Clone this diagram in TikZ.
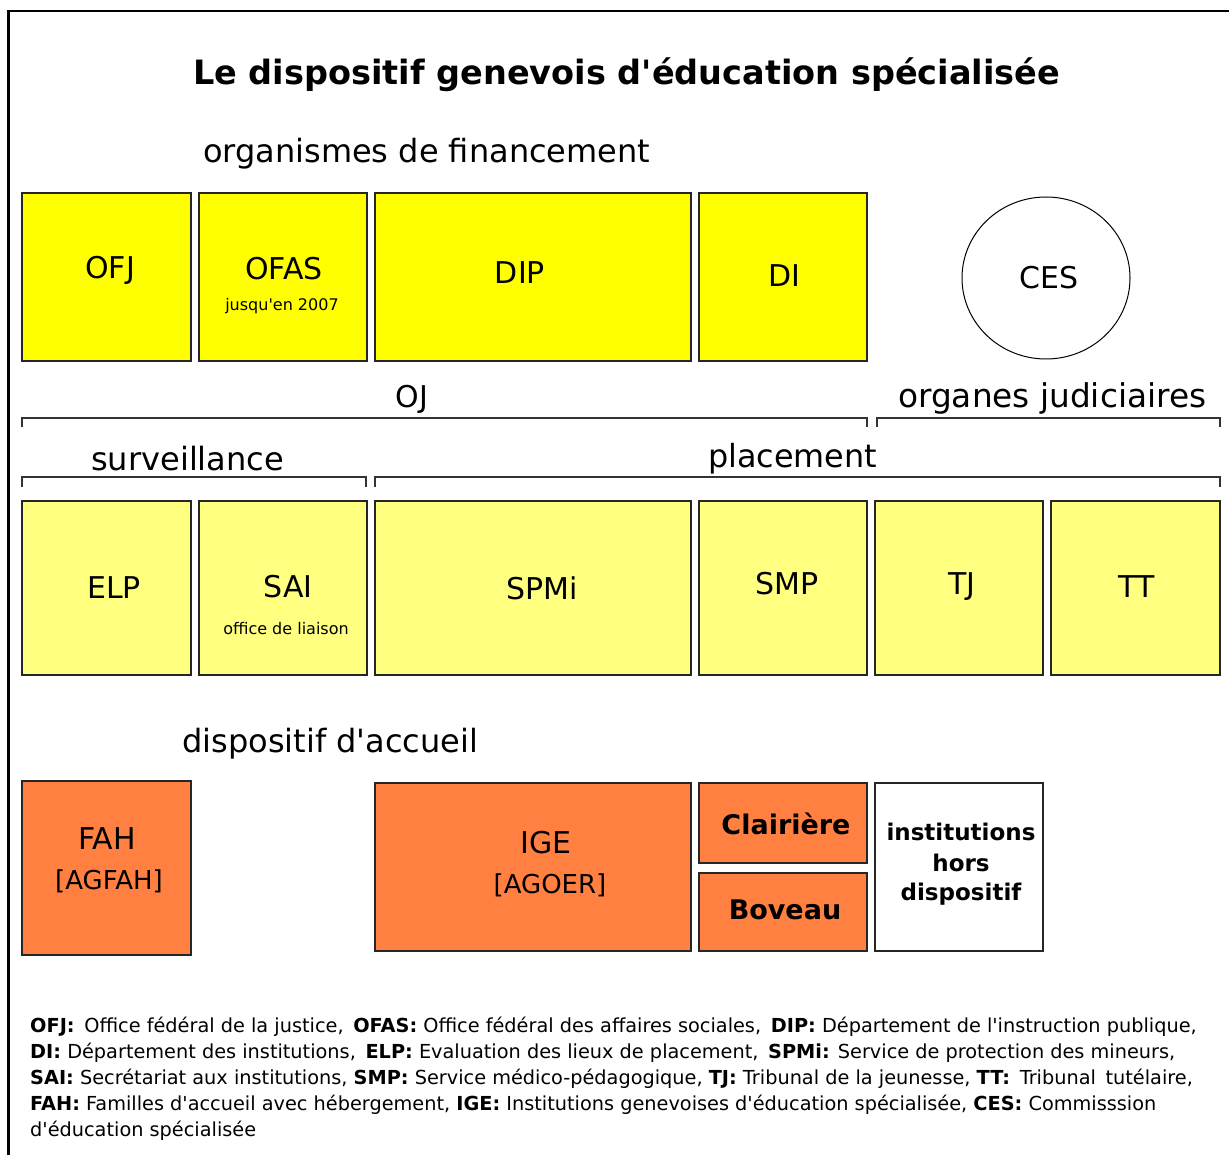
\documentclass[tikz,border=0pt]{standalone}
\usepackage{fontspec}
\setmainfont{DejaVu Sans}[Ligatures=TeXOff]
\usetikzlibrary{shapes.geometric}
\definecolor{yel}{HTML}{FFFF00}
\definecolor{lyel}{HTML}{FFFF80}
\definecolor{ora}{HTML}{FF8040}
\newcommand\fitto[2]{\resizebox{#1pt}{!}{#2}}
\begin{document}
\begin{tikzpicture}[x=1pt,y=-1pt,
  box/.style={draw=black!85, line width=1.6pt, inner sep=0pt, outer sep=0pt},
  lab/.style={anchor=base, inner sep=0pt, font=\fontsize{30}{32}\selectfont},
  small/.style={anchor=base, inner sep=0pt, font=\fontsize{16}{18}\selectfont},
  blab/.style={anchor=base, inner sep=0pt, font=\fontsize{27}{29}\selectfont\bfseries},
  ilab/.style={anchor=base, inner sep=0pt, font=\fontsize{23}{25}\selectfont\bfseries},
  sect/.style={anchor=base west, inner sep=0pt, font=\fontsize{32}{34}\selectfont},
  brk/.style={draw=black!80, line width=1.3pt},
  leg/.style={anchor=base west, inner sep=0pt, font=\fontsize{19.3}{21}\selectfont}]
\useasboundingbox (0,0) rectangle (1229,1155);
\fill[white] (0,0) rectangle (1229,1155);
% frame
\draw[line width=2.5pt] (8.25,1155) -- (8.25,11) -- (1229,11);
% title
\node[anchor=base west, inner sep=0pt] (title) at (193,85)
  {\fitto{867}{\fontsize{31}{34}\selectfont\bfseries Le dispositif genevois d'éducation spécialisée}};
\node[sect] (torg) at (203,163) {\fitto{447}{organismes de financement}};
% row 1
\node[box, fill=yel, minimum width=169pt, minimum height=168pt] (ofj) at (106.5,277) {};
\node[box, fill=yel, minimum width=168pt, minimum height=168pt] (ofas) at (283,277) {};
\node[box, fill=yel, minimum width=316pt, minimum height=168pt] (dip) at (533,277) {};
\node[box, fill=yel, minimum width=168pt, minimum height=168pt] (di) at (783,277) {};
\node[draw=black, line width=1pt, ellipse, inner sep=0pt, minimum width=168pt, minimum height=162pt] (ces) at (1046,278) {};
\node[lab] (lofj) at (110,279) {OFJ};
\node[lab] (lofas) at (284,280) {OFAS};
\node[small] (lofas2) at (282,311) {jusqu'en 2007};
\node[lab] (ldip) at (520,284) {DIP};
\node[lab] (ldi) at (784,287) {DI};
\node[lab] (lces) at (1049,289) {CES};
% brackets
\node[anchor=base, inner sep=0pt, font=\fontsize{30}{32}\selectfont] (toj) at (412,407) {OJ};
\node[sect] (torgj) at (898,407) {\fitto{308}{organes judiciaires}};
\draw[brk] (22,427) -- (22,418) -- (867,418) -- (867,427);
\draw[brk] (877,427) -- (877,418) -- (1220,418) -- (1220,427);
\node[sect] (tsurv) at (91,470) {\fitto{193}{surveillance}};
\node[sect] (tplac) at (708,467) {\fitto{169}{placement}};
\draw[brk] (22,487) -- (22,477) -- (366,477) -- (366,487);
\draw[brk] (375,487) -- (375,477) -- (1220,477) -- (1220,487);
% row 2
\node[box, fill=lyel, minimum width=169pt, minimum height=174pt] (elp) at (106.5,588) {};
\node[box, fill=lyel, minimum width=168pt, minimum height=174pt] (sai) at (283,588) {};
\node[box, fill=lyel, minimum width=316pt, minimum height=174pt] (spmi) at (533,588) {};
\node[box, fill=lyel, minimum width=168pt, minimum height=174pt] (smp) at (783,588) {};
\node[box, fill=lyel, minimum width=168pt, minimum height=174pt] (tj) at (959,588) {};
\node[box, fill=lyel, minimum width=169pt, minimum height=174pt] (tt) at (1135.5,588) {};
\node[lab] (lelp) at (114,598) {ELP};
\node[lab] (lsai) at (288,597) {SAI};
\node[small] (lsai2) at (286,634) {office de liaison};
\node[lab] (lspmi) at (542,599) {SPMi};
\node[lab] (lsmp) at (787,594) {SMP};
\node[lab] (ltj) at (962,594) {TJ};
\node[lab] (ltt) at (1137,597) {TT};
% row 3
\node[sect] (tdisp) at (182,752) {\fitto{296}{dispositif d'accueil}};
\node[box, fill=ora, minimum width=169pt, minimum height=174pt] (fah) at (106.5,868) {};
\node[box, fill=ora, minimum width=316pt, minimum height=168pt] (ige) at (533,867) {};
\node[box, fill=ora, minimum width=168pt, minimum height=80pt] (clai) at (783,823) {};
\node[box, fill=ora, minimum width=168pt, minimum height=78pt] (bov) at (783,912) {};
\node[box, fill=white, minimum width=168pt, minimum height=168pt] (inst) at (959,867) {};
\node[lab] (lfah) at (107,849) {FAH};
\node[lab, font=\fontsize{26}{28}\selectfont] (lfah2) at (109,889) {[AGFAH]};
\node[lab] (lige) at (546,853) {IGE};
\node[lab, font=\fontsize{26}{28}\selectfont] (lige2) at (550,893) {[AGOER]};
\node[blab] (lclai) at (786,834) {Clairière};
\node[blab] (lbov) at (785,919) {Boveau};
\node[ilab] (linst1) at (961,840) {institutions};
\node[ilab] (linst2) at (961,871) {hors};
\node[ilab] (linst3) at (961,900) {dispositif};
% legend
\node[leg] (leg1) at (30,1032) {\textbf{OFJ:}\enspace Office fédéral de la justice,\enspace\textbf{OFAS:} Office fédéral des affaires sociales,\enspace\textbf{DIP:} Département de l'instruction publique,};
\node[leg] (leg2) at (30,1058) {\textbf{DI:} Département des institutions,\enspace\textbf{ELP:} Evaluation des lieux de placement,\enspace\textbf{SPMi:} Service de protection des mineurs,};
\node[leg] (leg3) at (30,1084) {\textbf{SAI:} Secrétariat aux institutions, \textbf{SMP:} Service médico-pédagogique, \textbf{TJ:} Tribunal de la jeunesse, \textbf{TT:}\enspace Tribunal\enspace tutélaire,};
\node[leg] (leg4) at (30,1110) {\textbf{FAH:} Familles d'accueil avec hébergement, \textbf{IGE:} Institutions genevoises d'éducation spécialisée, \textbf{CES:} Commisssion};
\node[leg] (leg5) at (30,1136) {d'éducation spécialisée};
\end{tikzpicture}
\end{document}
